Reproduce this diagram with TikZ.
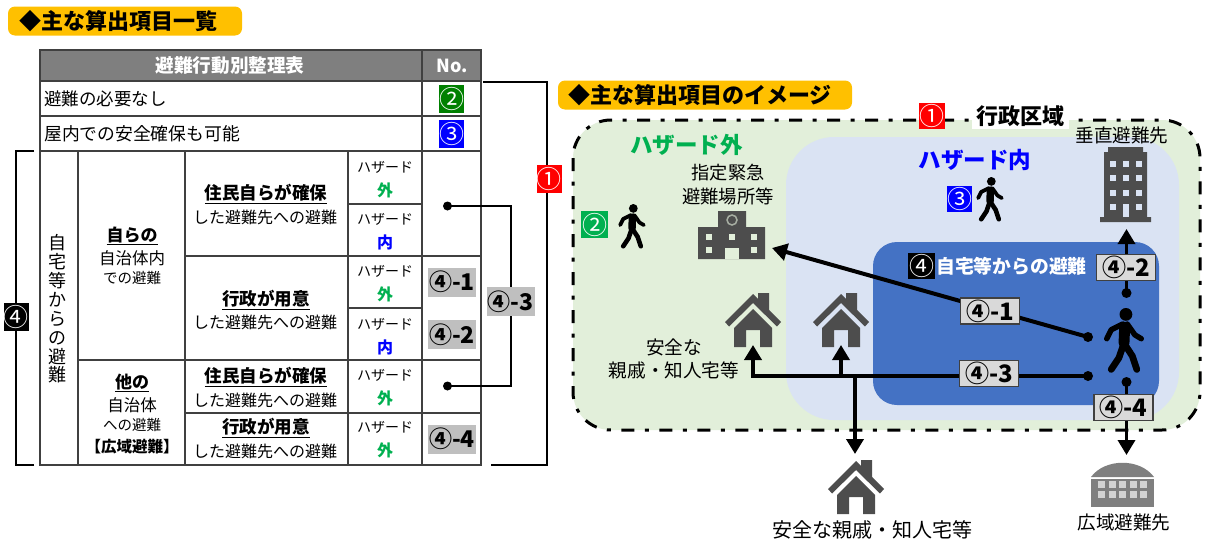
\documentclass[tikz,border=0pt]{standalone}
\usepackage{fontspec}
\setmainfont{Noto Sans CJK JP}
\usetikzlibrary{arrows.meta,calc}
\definecolor{ttl}{HTML}{FFC000}
\definecolor{hdr}{HTML}{7F7F7F}
\definecolor{lgreen}{HTML}{E2EFDA}
\definecolor{lblue}{HTML}{DAE3F3}
\definecolor{dblue}{HTML}{4472C4}
\definecolor{icon}{HTML}{4D4D4D}
\definecolor{gbox}{HTML}{BFBFBF}
\definecolor{hgreen}{HTML}{00B050}
\definecolor{tline}{HTML}{404040}
\newcommand\fsz[1]{\fontsize{#1}{#1}\selectfont}
\tikzset{
 txt/.style={inner sep=0pt,align=center,text=black,font=\fsz{#1}},
 txtb/.style={inner sep=0pt,align=center,text=black,font=\fsz{#1}\bfseries},
 titlebox/.style={fill=ttl,rounded corners=7pt,inner sep=0pt,minimum height=29pt},
 cbox/.style={inner sep=0pt,text=white,fill=#1,minimum width=23pt,minimum height=28pt,font=\fsz{25}},
 graybox/.style={inner sep=0pt,fill=gbox,minimum width=48pt,minimum height=29pt,font=\fsz{23}\bfseries},
 lblbox/.style={inner sep=0pt,fill=gray!30,draw=tline,line width=1.2pt,minimum width=59pt,minimum height=26pt,font=\fsz{24}\bfseries},
 tl/.style={draw=tline,line width=1.1pt},
 brk/.style={draw=black,line width=2pt},
 conn/.style={draw=black,line width=#1},
 conn/.default=3.5pt,
 dotn/.style={circle,fill=black,inner sep=0pt,minimum size=#1},
 harrow/.style={-{Triangle[width=17pt,length=15pt]}},
}
\newcommand\iconhouse[2]{%
 \begin{scope}[shift={(#1,#2)}]
 \fill[icon] (5,0)--(16,0)--(16,18)--(5,7)--cycle;
 \fill[icon] (0,1)--(28,29)--(24,33.5)--(0,10)--(-24,33.5)--(-28,29)--cycle;
 \fill[icon] (0,16)--(19,35)--(19,54)--(7,54)--(7,37)--(-7,37)--(-7,54)--(-19,54)--(-19,35)--cycle;
 \end{scope}}
\newcommand\walker[3]{%
 \begin{scope}[shift={(#1,#2)},x=#3pt,y=-#3pt,line cap=round,line join=round]
 \fill[black] (0.03,0.1) circle[radius=0.1];
 \draw[line width=#3*0.17pt] (0.01,0.3)--(0,0.55);
 \draw[line width=#3*0.085pt] (-0.02,0.25)--(-0.2,0.34)--(-0.27,0.48);
 \draw[line width=#3*0.085pt] (0.05,0.25)--(0.17,0.42)--(0.27,0.48);
 \draw[line width=#3*0.105pt] (0,0.55)--(-0.08,0.78)--(-0.2,0.96);
 \draw[line width=#3*0.105pt] (0,0.55)--(0.13,0.75)--(0.2,0.96);
 \end{scope}}
\begin{document}
\begin{tikzpicture}[x=1pt,y=-1pt]
\useasboundingbox (0,0) rectangle (1205,541);
% titles
\node[titlebox,minimum width=234pt] (t1) at (125,21) {};
\node[txtb=22,anchor=west] (t1x) at (19,21) {◆主な算出項目一覧};
\node[titlebox,minimum width=294pt] (t2) at (705,95) {};
\node[txtb=22,anchor=west] (t2x) at (568,95) {◆主な算出項目のイメージ};
% table
\fill[hdr] (40,50) rectangle (481,81);
\node[txtb=18.6,text=white] (h1) at (230,66) {避難行動別整理表};
\node[txtb=18,text=white] (h2) at (452,66) {No.};
\path[tl] (40,50) rectangle (481,465);
\path[tl] (40,81)--(481,81) (40,116)--(481,116) (40,151)--(481,151) (40,465)--(481,465);
\path[tl] (422,50)--(422,465);
\path[tl] (78,151)--(78,465) (185,151)--(185,465) (348,151)--(348,465);
\path[tl] (78,360)--(481,360) (185,256)--(481,256);
\path[tl] (348,204)--(422,204) (348,308)--(422,308) (185,413)--(481,413);
\node[txt=17.5,anchor=west] (r1) at (44,99) {避難の必要なし};
\node[txt=17.8,anchor=west] (r2) at (44,134) {屋内での安全確保も可能};
\node[cbox=green!50!black] (c2) at (451.5,98.5) {②};
\node[cbox=blue] (c3) at (451.5,134) {③};
\node[inner sep=0pt,align=center,font=\fontsize{18}{18.9}\selectfont] (v1) at (57,309) {自\\宅\\等\\か\\ら\\の\\避\\難};
\node[txtb=17] (a1) at (132,236) {\underline{自らの}};
\node[txt=16.5] (a2) at (132,258) {自治体内};
\node[txt=14.5] (a3) at (132,278) {での避難};
\node[txtb=17] (a4) at (132,383) {\underline{他の}};
\node[txt=16.5] (a5) at (132,405) {自治体};
\node[txt=14.5] (a6) at (132,425) {への避難};
\node[txtb=15.5] (a7) at (132,447) {【広域避難】};
\node[txtb=17.5] (b1) at (266,194) {\underline{住民自らが確保}};
\node[txt=16] (b2) at (265,217) {した避難先への避難};
\node[txtb=17.5] (b3) at (266,300) {\underline{行政が用意}};
\node[txt=16] (b4) at (265,322) {した避難先への避難};
\node[txtb=17.5] (b5) at (266,377) {\underline{住民自らが確保}};
\node[txt=16] (b6) at (265,400) {した避難先への避難};
\node[txtb=17.5] (b7) at (266,428) {\underline{行政が用意}};
\node[txt=16] (b8) at (265,451) {した避難先への避難};
\foreach \n/\y/\w/\c in {1/167/外/hgreen,2/219/内/blue,3/271/外/hgreen,4/324/内/blue,5/375/外/hgreen,6/427/外/hgreen}{
 \node[txt=14] (hz\n) at (385,\y) {ハザード};
 \node[txtb=16,text=\c] (hw\n) at (385,\y+23) {\w};
}
\node[graybox] (g1) at (452,282) {④-1};
\node[graybox] (g2) at (452,334.5) {④-2};
\node[graybox] (g4) at (452,439) {④-4};
\node[graybox,minimum height=29pt] (g3) at (510.5,301.5) {④-3};
\node[dotn=9pt] (gd1) at (447.5,206) {};
\node[dotn=9pt] (gd2) at (447.5,386) {};
\draw[brk] (gd1.center) -| (g3.north);
\draw[brk] (gd2.center) -| (g3.south);
% brackets
\node[cbox=black,minimum width=22pt] (c4) at (16,317) {④};
\coordinate (bl1) at (34,151); \coordinate (bl2) at (34,465);
\draw[brk] (bl1) -| (c4.north);
\draw[brk] (bl2) -| (c4.south);
\node[cbox=red] (c1) at (549,179) {①};
\coordinate (br1) at (483,82); \coordinate (br2) at (491,465);
\draw[brk] (br1) -| (c1.north -| 547,0);
\draw[brk] (br2) -| (c1.south -| 547,0);
% map regions
\fill[lgreen] (573,120) [rounded corners=38pt] rectangle (1200,430);
\fill[lblue] (786,137) [rounded corners=48pt] rectangle (1179,420);
\fill[dblue] (873,242) [rounded corners=24pt] rectangle (1159,405);
\draw[black,line width=3pt,dash pattern=on 13pt off 10.5pt on 4pt off 10.5pt,rounded corners=38pt] (573,120) rectangle (1200,430);
\node[fill=white,inner sep=0pt,minimum width=97pt,minimum height=26pt,txtb=22] (gyosei) at (1020.5,116) {行政区域};
\node[cbox=red,minimum width=26pt,minimum height=26pt] (cc1) at (932,116) {①};
\node[txtb=22.5,text=hgreen] (hsoto) at (686.5,145) {ハザード外};
\node[txtb=22.5,text=blue] (hnai) at (975,160) {ハザード内};
\node[txt=18.6] (sui) at (1122,135) {垂直避難先};
\node[txt=18.2] (shi) at (728,173) {指定緊急};
\node[txt=18.4] (shi2) at (728,196) {避難場所等};
\node[cbox=hgreen,minimum width=27pt,minimum height=27pt] (cc2) at (594.5,224.5) {②};
\node[cbox=blue,minimum width=25pt,minimum height=26pt] (cc3) at (959.5,199) {③};
\node[cbox=black,minimum width=27pt,minimum height=26pt] (cc4) at (921.5,266) {④};
\node[txtb=18.8,text=white,anchor=west] (jt) at (936,266) {自宅等からの避難};
% icons
\walker{632}{204}{44}
\walker{990}{177}{44}
\walker{1124}{308}{64}
% school
\fill[icon] (718,211) rectangle (746,230) (698,227) rectangle (765,259);
\draw[lgreen!60!icon,line width=1.5pt] (732,220) circle[radius=5];
\foreach \x in {709,732,754}{\fill[lgreen] (\x-3,234) rectangle +(6,6);}
\foreach \x in {709,754}{\fill[lgreen] (\x-3,247) rectangle +(6,6);}
\fill[lgreen] (725,248) rectangle (739,259);
% tall building
\fill[icon] (1104,152) -- (1108,152) -- (1108,147) -- (1143,147) -- (1143,152) -- (1147,152) -- (1147,217) -- (1151,217) -- (1151,222) -- (1100,222) -- (1100,217) -- (1104,217) -- cycle;
\foreach \y in {161,175,190}{\foreach \x in {1113,1125.5,1139}{\fill[lblue] (\x-3,\y) rectangle +(6,6);}}
\foreach \x in {1113,1139}{\fill[lblue] (\x-3,204) rectangle +(6,6);}
\fill[lblue] (1122.5,204) rectangle (1128.5,217);
% houses
\iconhouse{753}{293}
\iconhouse{841}{293}
\iconhouse{856}{460}
% wide-area shelter
\fill[hdr] (1091,477) .. controls (1105,458) and (1140,458) .. (1154,477) -- cycle;
\fill[hdr] (1091,479) rectangle (1154,507);
\foreach \y in {481,491}{\foreach \x in {1098,1108.5,1119,1129.5,1140}{\fill[gray!35] (\x,\y) rectangle +(7,7);}}
\node[txt=18.6] (saf1) at (674,347) {安全な};
\node[txt=18.6] (saf2) at (674,370) {親戚・知人宅等};
\node[txt=20] (saf3) at (872,530) {安全な親戚・知人宅等};
\node[txt=18.6] (kou) at (1124,522) {広域避難先};
% connectors
\node[dotn=10pt] (d42) at (1126.5,293) {};
\node[dotn=10pt] (d41) at (1088,337) {};
\node[dotn=10pt] (d43) at (1088,376) {};
\node[dotn=10pt] (d44) at (1126.5,382) {};
\coordinate (schoolpt) at (772,248);
\coordinate (towerpt) at (1126.5,229);
\coordinate (h1pt) at (753,345);
\coordinate (h2pt) at (841,345);
\coordinate (h3pt) at (855,454);
\coordinate (shpt) at (1126.5,455);
\draw[conn=4pt,harrow] (d41.center) -- (schoolpt);
\draw[conn,harrow] (d42.center) -- (towerpt);
\draw[conn,harrow] (d44.center) -- (shpt);
\draw[conn=4pt,harrow] (d43.center) -| (h1pt);
\draw[conn,harrow] (d43.center -| h2pt) -- (h2pt);
\draw[conn=4pt,harrow] (d43.center -| h3pt) -- (h3pt);
\node[lblbox] (n41) at (990,311) {④-1};
\node[lblbox] (n42) at (1126,267.5) {④-2};
\node[lblbox] (n43) at (989,373.5) {④-3};
\node[lblbox] (n44) at (1123.5,407.5) {④-4};
\end{tikzpicture}
\end{document}
